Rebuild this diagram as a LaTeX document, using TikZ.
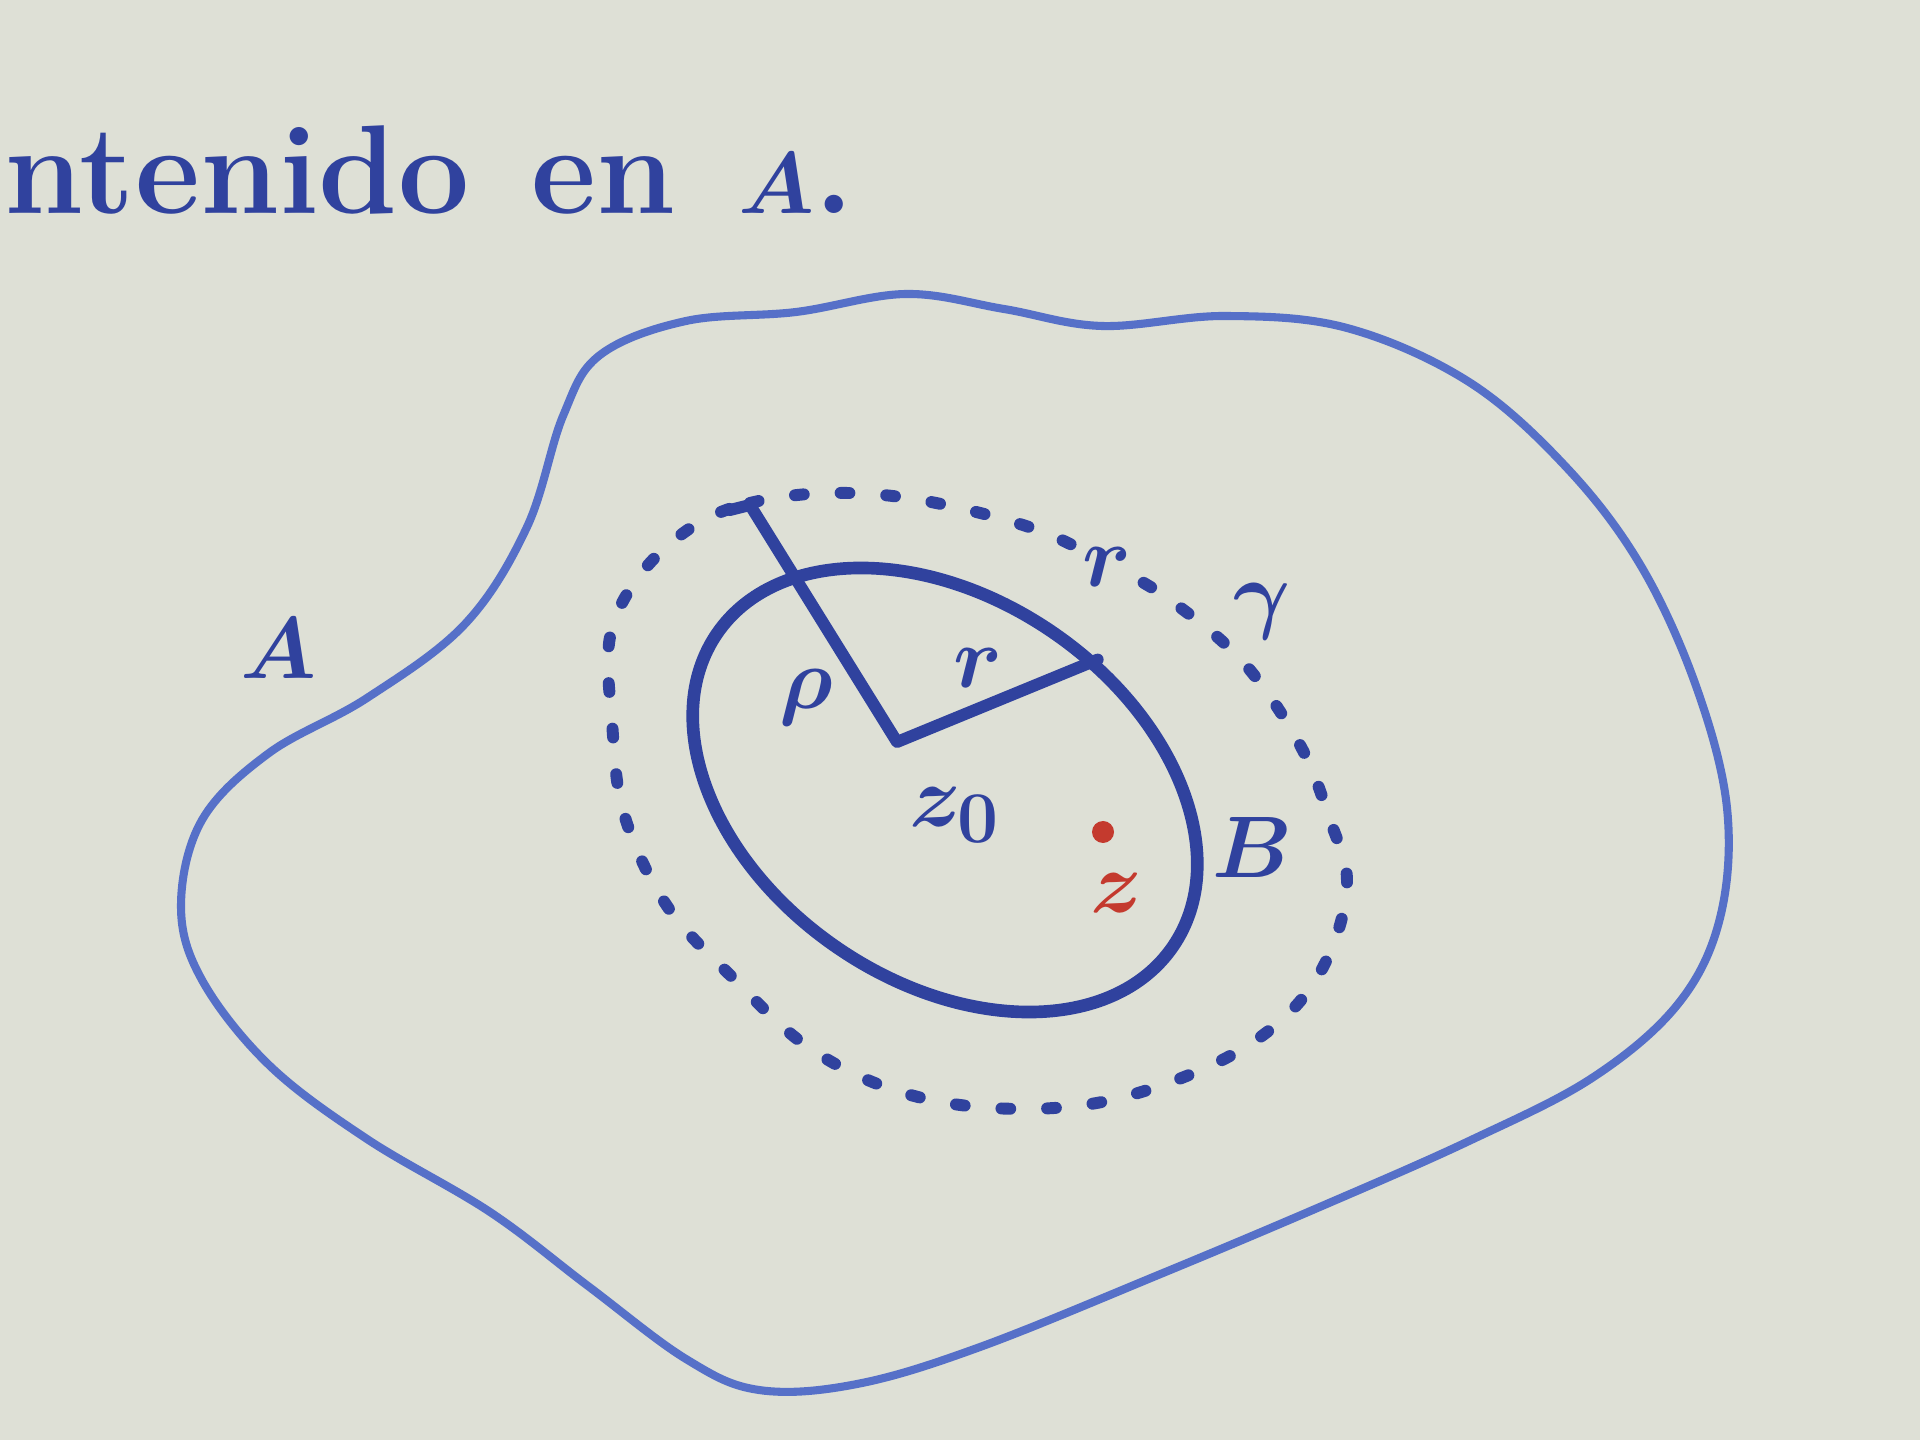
\documentclass[tikz,border=0pt]{standalone}
\usepackage{amsmath,amssymb}
\usepackage{tikz}
\usetikzlibrary{calc,positioning,shapes.geometric}
\usepackage{xcolor}
\definecolor{boardgray}{RGB}{222,224,214}
\definecolor{penblue}{RGB}{48,66,158}
\definecolor{blobblue}{RGB}{86,112,200}
\definecolor{penred}{RGB}{196,58,46}

\begin{document}
\begin{tikzpicture}[line join=round,line cap=round,
    lbl/.style={text=penblue,inner sep=1pt,font=\fontsize{30}{36}\selectfont\boldmath},
    dotline/.style={penblue,line width=3.4pt,dash pattern=on 2.5pt off 10.5pt}]
  \useasboundingbox (0,0) rectangle (19.2,14.4);
  \fill[boardgray] (0,0) rectangle (19.2,14.4);
  \node[lbl,anchor=base west,inner sep=0pt,font=\fontsize{36}{42}\selectfont\bfseries\boldmath] (txt) at (0.04,12.26)
    {ntenido\hspace{0.15cm} en\hspace{0.15cm} $A$.};
  % region A
  \draw[blobblue,line width=2.3pt] plot[smooth cycle,tension=0.6] coordinates {
    (9.06,11.46) (10.04,11.31) (11.02,11.14) (12.25,11.24) (13.47,11.12)
    (14.69,10.58) (15.67,9.72) (16.41,8.74) (16.96,7.54) (17.27,6.32)
    (17.20,5.22) (16.78,4.36) (15.92,3.62) (14.69,2.99) (13.22,2.34)
    (11.63,1.67) (9.80,0.93) (8.57,0.56) (7.59,0.50) (6.86,0.81)
    (5.88,1.54) (4.90,2.28) (3.67,3.01) (2.69,3.75) (2.02,4.60)
    (1.81,5.34) (2.02,6.20) (2.69,6.87) (3.67,7.42) (4.65,8.16)
    (5.27,9.13) (5.63,10.24) (6.00,10.85) (6.86,11.19) (7.96,11.28)};
  \node[lbl,font=\fontsize{34}{40}\selectfont\boldmath] (lblA) at (2.79,7.91) {$A$};
  % circle gamma
  \draw[dotline] plot[smooth cycle,tension=0.6] coordinates {
    (6.92,9.13) (7.50,9.37) (8.30,9.47) (9.20,9.40) (10.32,9.12)
    (11.10,8.75) (11.70,8.40) (12.43,7.78) (13.00,6.95) (13.30,6.20)
    (13.47,5.58) (13.29,4.85) (12.86,4.24) (12.12,3.75) (11.02,3.38)
    (9.92,3.32) (8.94,3.50) (8.08,3.93) (7.35,4.60) (6.67,5.34)
    (6.24,6.26) (6.12,7.18) (6.10,8.03) (6.40,8.65)};
  \node[lbl,fill=boardgray] (lblR) at (11.07,8.73) {$r$};
  \node[lbl] (lblgamma) at (12.62,8.28) {$\gamma$};
  % disk B
  \node[ellipse,draw=penblue,line width=3.6pt,inner sep=0pt,rotate=-34.5,
    minimum width=5.53cm,minimum height=3.82cm] (diskB) at (9.45,6.50) {};
  \node[lbl,font=\fontsize{26}{32}\selectfont\boldmath] (lblB) at (12.52,5.92) {$B$};
  % radii
  \coordinate (zo) at (8.97,6.98);
  \coordinate (Rtop) at (7.50,9.35);
  \draw[penblue,line width=3.4pt] (7.30,9.30) -- (Rtop) -- (zo) -- (diskB.75);
  \node[lbl] (lblrho) at (8.06,7.42) {$\rho$};
  \node[lbl] (lblr) at (9.78,7.72) {$r$};
  \node[lbl] (lblzo) at (9.55,6.25) {$z_0$};
  % point z
  \node[circle,fill=penred,inner sep=0pt,minimum size=2.2mm] (zpt) at (11.03,6.08) {};
  \node[lbl,text=penred] (lblz) at (11.17,5.47) {$z$};
\end{tikzpicture}
\end{document}
